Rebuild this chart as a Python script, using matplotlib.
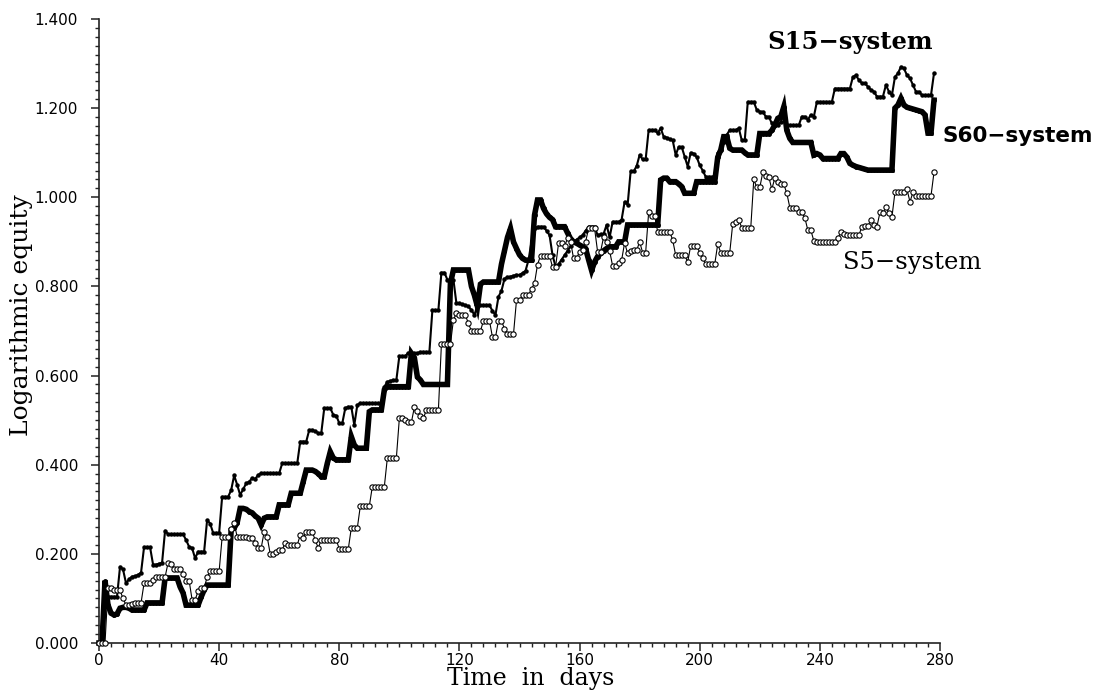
import matplotlib
matplotlib.use('Agg')
import matplotlib.pyplot as plt
from matplotlib.ticker import MultipleLocator, FormatStrFormatter
import numpy as np

# ---- data: logarithmic equity per day (days 0..278) ----
s5_values = [
    0.000, 0.000, 0.000, 0.123, 0.123, 0.120, 0.120, 0.118, 0.100, 0.085,
    0.085, 0.088, 0.090, 0.090, 0.090, 0.134, 0.134, 0.134, 0.141, 0.147,
    0.148, 0.148, 0.148, 0.180, 0.178, 0.167, 0.167, 0.165, 0.155, 0.140,
    0.140, 0.097, 0.097, 0.116, 0.123, 0.123, 0.148, 0.161, 0.161, 0.161,
    0.161, 0.238, 0.238, 0.238, 0.255, 0.270, 0.238, 0.238, 0.238, 0.238,
    0.236, 0.236, 0.225, 0.213, 0.213, 0.250, 0.238, 0.200, 0.200, 0.205,
    0.209, 0.209, 0.225, 0.220, 0.220, 0.220, 0.220, 0.242, 0.236, 0.249,
    0.249, 0.249, 0.231, 0.213, 0.232, 0.231, 0.231, 0.231, 0.231, 0.231,
    0.211, 0.211, 0.211, 0.211, 0.258, 0.258, 0.258, 0.307, 0.307, 0.307,
    0.307, 0.351, 0.351, 0.351, 0.351, 0.351, 0.415, 0.415, 0.415, 0.415,
    0.504, 0.504, 0.500, 0.495, 0.495, 0.529, 0.520, 0.510, 0.504, 0.523,
    0.523, 0.523, 0.523, 0.523, 0.670, 0.670, 0.670, 0.670, 0.725, 0.740,
    0.735, 0.735, 0.735, 0.717, 0.700, 0.700, 0.700, 0.700, 0.723, 0.723,
    0.723, 0.686, 0.686, 0.723, 0.723, 0.705, 0.693, 0.693, 0.693, 0.769,
    0.769, 0.780, 0.781, 0.781, 0.795, 0.807, 0.849, 0.869, 0.869, 0.869,
    0.869, 0.843, 0.843, 0.897, 0.897, 0.890, 0.908, 0.900, 0.863, 0.863,
    0.878, 0.881, 0.900, 0.930, 0.930, 0.930, 0.878, 0.878, 0.911, 0.900,
    0.880, 0.846, 0.846, 0.852, 0.859, 0.898, 0.874, 0.880, 0.881, 0.881,
    0.900, 0.876, 0.876, 0.966, 0.958, 0.958, 0.923, 0.923, 0.923, 0.923,
    0.923, 0.904, 0.870, 0.870, 0.870, 0.870, 0.855, 0.891, 0.891, 0.891,
    0.876, 0.863, 0.850, 0.850, 0.850, 0.850, 0.895, 0.876, 0.876, 0.876,
    0.876, 0.941, 0.944, 0.949, 0.932, 0.932, 0.932, 0.932, 1.040, 1.022,
    1.022, 1.056, 1.048, 1.046, 1.018, 1.043, 1.035, 1.029, 1.029, 1.009,
    0.977, 0.977, 0.977, 0.966, 0.966, 0.954, 0.926, 0.926, 0.902, 0.900,
    0.900, 0.900, 0.900, 0.900, 0.900, 0.900, 0.909, 0.921, 0.917, 0.915,
    0.915, 0.915, 0.915, 0.915, 0.934, 0.936, 0.936, 0.949, 0.938, 0.934,
    0.966, 0.964, 0.979, 0.964, 0.956, 1.011, 1.011, 1.011, 1.011, 1.018,
    0.990, 1.011, 1.003, 1.003, 1.003, 1.003, 1.003, 1.003, 1.056,
]

s15_values = [
    0.000, 0.000, 0.104, 0.104, 0.104, 0.104, 0.104, 0.171, 0.165, 0.134,
    0.143, 0.149, 0.150, 0.153, 0.158, 0.215, 0.215, 0.215, 0.176, 0.176,
    0.178, 0.180, 0.252, 0.244, 0.244, 0.244, 0.244, 0.244, 0.244, 0.231,
    0.216, 0.213, 0.190, 0.205, 0.205, 0.205, 0.276, 0.268, 0.247, 0.247,
    0.247, 0.328, 0.328, 0.328, 0.343, 0.376, 0.355, 0.332, 0.345, 0.358,
    0.362, 0.370, 0.368, 0.377, 0.381, 0.381, 0.381, 0.381, 0.381, 0.381,
    0.381, 0.403, 0.403, 0.403, 0.403, 0.403, 0.403, 0.452, 0.452, 0.452,
    0.478, 0.478, 0.475, 0.471, 0.471, 0.527, 0.527, 0.527, 0.512, 0.510,
    0.493, 0.493, 0.527, 0.530, 0.530, 0.489, 0.534, 0.538, 0.538, 0.538,
    0.538, 0.538, 0.538, 0.538, 0.538, 0.575, 0.586, 0.588, 0.590, 0.590,
    0.644, 0.644, 0.644, 0.651, 0.650, 0.650, 0.650, 0.653, 0.653, 0.653,
    0.653, 0.747, 0.747, 0.747, 0.831, 0.831, 0.815, 0.815, 0.815, 0.762,
    0.762, 0.760, 0.758, 0.755, 0.747, 0.736, 0.758, 0.758, 0.758, 0.758,
    0.758, 0.745, 0.736, 0.777, 0.790, 0.817, 0.821, 0.822, 0.824, 0.826,
    0.826, 0.830, 0.835, 0.859, 0.900, 0.930, 0.934, 0.934, 0.934, 0.925,
    0.915, 0.870, 0.845, 0.850, 0.860, 0.870, 0.880, 0.890, 0.900, 0.905,
    0.910, 0.915, 0.925, 0.934, 0.934, 0.934, 0.915, 0.917, 0.918, 0.938,
    0.910, 0.945, 0.945, 0.945, 0.950, 0.990, 0.983, 1.058, 1.058, 1.070,
    1.095, 1.085, 1.085, 1.151, 1.151, 1.151, 1.144, 1.155, 1.136, 1.134,
    1.130, 1.128, 1.095, 1.113, 1.113, 1.091, 1.069, 1.100, 1.098, 1.090,
    1.072, 1.060, 1.046, 1.046, 1.046, 1.046, 1.100, 1.110, 1.125, 1.140,
    1.151, 1.151, 1.151, 1.155, 1.128, 1.128, 1.214, 1.214, 1.214, 1.196,
    1.192, 1.192, 1.181, 1.181, 1.166, 1.162, 1.162, 1.170, 1.185, 1.162,
    1.162, 1.162, 1.162, 1.162, 1.181, 1.181, 1.174, 1.185, 1.181, 1.214,
    1.214, 1.214, 1.214, 1.214, 1.214, 1.244, 1.244, 1.244, 1.244, 1.244,
    1.244, 1.270, 1.274, 1.263, 1.256, 1.256, 1.248, 1.241, 1.237, 1.226,
    1.226, 1.226, 1.252, 1.237, 1.229, 1.270, 1.278, 1.293, 1.289, 1.274,
    1.267, 1.252, 1.237, 1.237, 1.229, 1.229, 1.229, 1.229, 1.278,
]

s60_values = [
    0.000, 0.000, 0.140, 0.085, 0.067, 0.063, 0.065, 0.078, 0.080, 0.080,
    0.078, 0.074, 0.074, 0.074, 0.074, 0.074, 0.090, 0.090, 0.090, 0.090,
    0.090, 0.090, 0.146, 0.146, 0.146, 0.146, 0.146, 0.126, 0.112, 0.085,
    0.085, 0.085, 0.085, 0.085, 0.103, 0.119, 0.130, 0.130, 0.130, 0.130,
    0.130, 0.130, 0.130, 0.130, 0.254, 0.258, 0.270, 0.302, 0.302, 0.300,
    0.295, 0.292, 0.285, 0.280, 0.265, 0.280, 0.283, 0.283, 0.283, 0.283,
    0.310, 0.310, 0.310, 0.310, 0.336, 0.336, 0.336, 0.336, 0.362, 0.388,
    0.388, 0.388, 0.385, 0.380, 0.373, 0.373, 0.403, 0.429, 0.415, 0.411,
    0.411, 0.411, 0.411, 0.411, 0.463, 0.444, 0.437, 0.437, 0.437, 0.437,
    0.519, 0.523, 0.523, 0.523, 0.523, 0.568, 0.575, 0.575, 0.575, 0.575,
    0.575, 0.575, 0.575, 0.575, 0.650, 0.640, 0.597, 0.590, 0.580, 0.580,
    0.580, 0.580, 0.580, 0.580, 0.580, 0.580, 0.580, 0.807, 0.837, 0.837,
    0.837, 0.837, 0.837, 0.837, 0.800, 0.780, 0.755, 0.805, 0.810, 0.810,
    0.810, 0.810, 0.810, 0.810, 0.850, 0.880, 0.910, 0.930, 0.900, 0.885,
    0.871, 0.863, 0.859, 0.859, 0.859, 0.960, 0.994, 0.994, 0.975, 0.963,
    0.955, 0.950, 0.934, 0.934, 0.934, 0.934, 0.920, 0.907, 0.900, 0.897,
    0.893, 0.889, 0.885, 0.860, 0.836, 0.855, 0.867, 0.874, 0.880, 0.885,
    0.889, 0.889, 0.889, 0.900, 0.900, 0.900, 0.938, 0.938, 0.938, 0.938,
    0.938, 0.938, 0.938, 0.938, 0.938, 0.938, 0.938, 1.039, 1.043, 1.043,
    1.035, 1.035, 1.035, 1.030, 1.024, 1.009, 1.009, 1.009, 1.009, 1.035,
    1.035, 1.035, 1.035, 1.035, 1.035, 1.035, 1.090, 1.106, 1.136, 1.136,
    1.110, 1.106, 1.106, 1.106, 1.106, 1.100, 1.095, 1.095, 1.095, 1.095,
    1.143, 1.143, 1.143, 1.143, 1.150, 1.162, 1.177, 1.181, 1.203, 1.150,
    1.132, 1.123, 1.123, 1.123, 1.123, 1.123, 1.123, 1.123, 1.095, 1.098,
    1.095, 1.087, 1.087, 1.087, 1.087, 1.087, 1.087, 1.098, 1.098, 1.090,
    1.076, 1.072, 1.069, 1.067, 1.065, 1.063, 1.061, 1.061, 1.061, 1.061,
    1.061, 1.061, 1.061, 1.061, 1.061, 1.200, 1.207, 1.222, 1.207, 1.202,
    1.200, 1.198, 1.196, 1.194, 1.192, 1.185, 1.144, 1.144, 1.218,
]

days = np.arange(len(s5_values))

x_ticks = [0, 40, 80, 120, 160, 200, 240, 280]
y_ticks = [0.0, 0.2, 0.4, 0.6, 0.8, 1.0, 1.2, 1.4]

series_labels = ["S15\u2212system", "S60\u2212system", "S5\u2212system"]
x_label = "Time  in  days"
y_label = "Logarithmic equity"

# ---- figure ----
W, H = 1107, 691
fig = plt.figure(figsize=(W / 100, H / 100), dpi=100)
ax = fig.add_axes([99 / W, 1 - 643 / H, (940 - 99) / W, (643 - 19) / H])

ax.plot(days, s60_values, color='black', lw=4.0, marker='o', ms=2.5,
        mfc='black', mec='black', solid_joinstyle='miter', zorder=2, clip_on=False)
ax.plot(days, s15_values, color='black', lw=1.5, marker='o', ms=2.2,
        mfc='black', mec='black', zorder=3, clip_on=False)
ax.plot(days, s5_values, color='black', lw=0.8, marker='o', ms=3.8,
        mfc='white', mec='black', mew=0.8, zorder=4, clip_on=False)

ax.set_xlim(0, 280)
ax.set_ylim(0, 1.4)
ax.set_xticks(x_ticks)
ax.set_yticks(y_ticks)
ax.xaxis.set_minor_locator(MultipleLocator(4))
ax.yaxis.set_minor_locator(MultipleLocator(0.02))
ax.yaxis.set_major_formatter(FormatStrFormatter('%.3f'))

for side in ('top', 'right'):
    ax.spines[side].set_visible(False)
for side in ('left', 'bottom'):
    ax.spines[side].set_linewidth(1.2)
    ax.spines[side].set_color('#222222')

ax.tick_params(which='major', direction='out', length=5.5, width=1.1,
               color='#222222', labelsize=11)
ax.tick_params(which='minor', direction='out', length=3.2, width=1.0,
               color='#222222')
ax.tick_params(axis='y', which='major', pad=9.5)
ax.tick_params(axis='x', which='major', pad=1.5)
for lab in ax.get_xticklabels() + ax.get_yticklabels():
    lab.set_family('DejaVu Sans')

serif = ['DejaVu Serif']
fig.text(531 / W, 1 - 685 / H, x_label, ha='center', va='baseline',
         fontsize=17, family=serif)
fig.text(22 / W, 1 - 315 / H, y_label, ha='center', va='center',
         rotation=90, fontsize=18, family=serif)

fig.text(850 / W, 1 - 42 / H, series_labels[0], ha='center', va='center',
         fontsize=17.5, fontweight='bold', family=serif)
fig.text(942 / W, 1 - 136 / H, series_labels[1], ha='left', va='center',
         fontsize=15.5, fontweight='bold', family=['DejaVu Sans'])
fig.text(912 / W, 1 - 262 / H, series_labels[2], ha='center', va='center',
         fontsize=17.5, family=serif)

fig.savefig('out.png', dpi=100)
